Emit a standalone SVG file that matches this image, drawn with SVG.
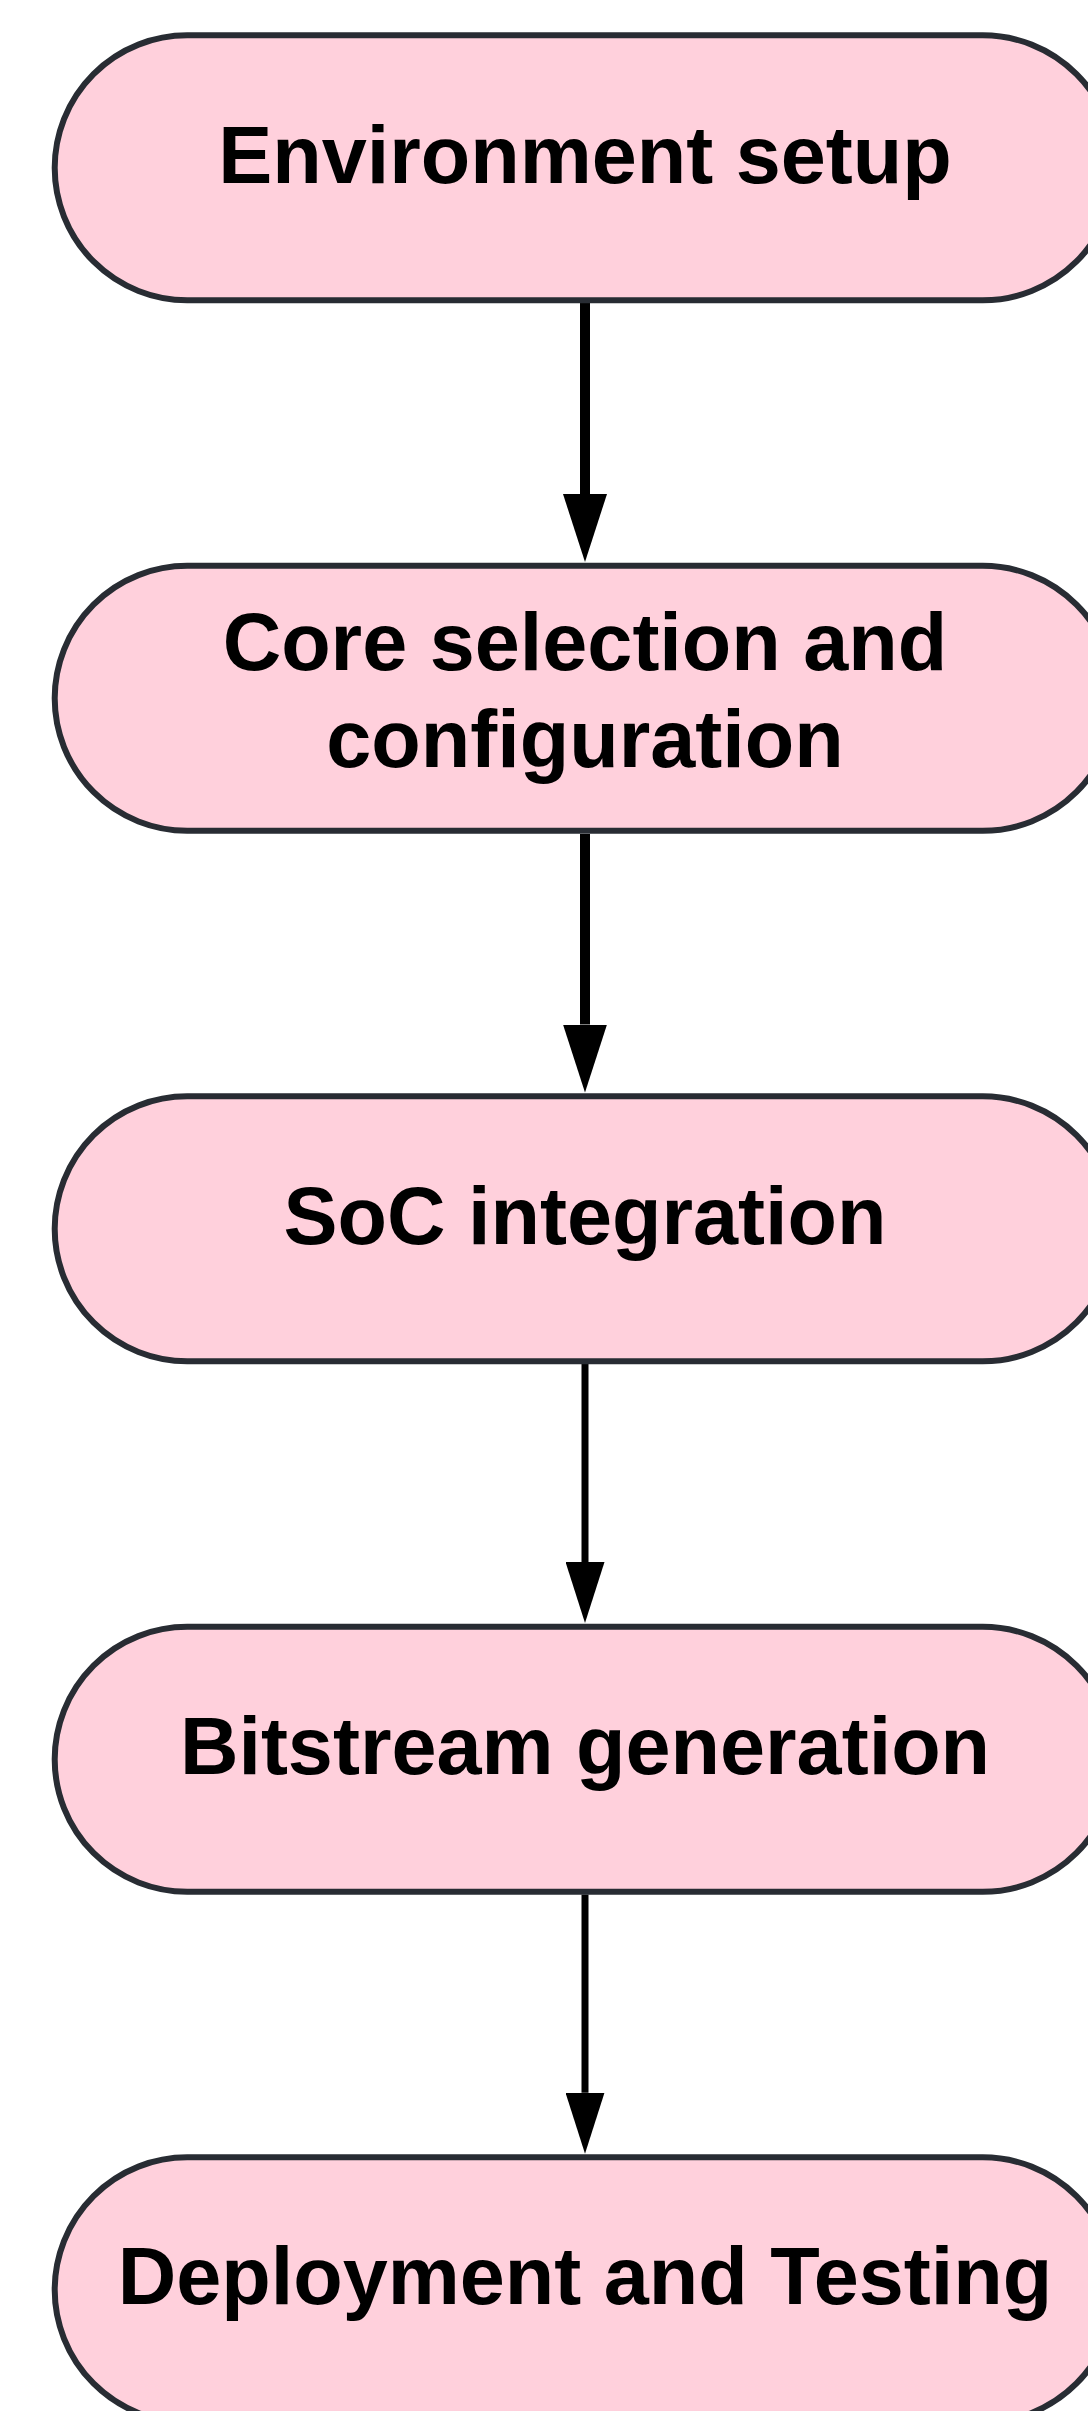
<svg xmlns="http://www.w3.org/2000/svg" width="1088" height="2411" viewBox="0 0 1088 2411">
  <style>
    .node rect { fill: #ffd0dc; stroke: #282c33; stroke-width: 6; }
    .node text { font-family: "Liberation Sans", Arial, sans-serif; font-weight: bold; font-size: 81px; fill: #000000; text-anchor: middle; }
    .edge { stroke: #000000; fill: none; stroke-linecap: butt; }
    .thick { stroke-width: 10; marker-end: url(#headA); }
    .thin { stroke-width: 7; marker-end: url(#headB); }
  </style>
  <defs>
    <marker id="headA" markerUnits="userSpaceOnUse" viewBox="0 -22 68 44" refX="0" refY="0" markerWidth="68" markerHeight="44" orient="auto">
      <path d="M0,-22 L68,0 L0,22 Z" fill="#000000"/>
    </marker>
    <marker id="headB" markerUnits="userSpaceOnUse" viewBox="0 -19.5 61 39" refX="0" refY="0" markerWidth="61" markerHeight="39" orient="auto">
      <path d="M0,-19.5 L61,0 L0,19.5 Z" fill="#000000"/>
    </marker>
  </defs>
  <rect width="1088" height="2411" fill="#ffffff"/>
  <g id="connectors">
    <line class="edge thick" x1="585" y1="303" x2="585" y2="494"/>
    <line class="edge thick" x1="585" y1="834" x2="585" y2="1024.5"/>
    <line class="edge thin" x1="585" y1="1364" x2="585" y2="1562"/>
    <line class="edge thin" x1="585" y1="1894.5" x2="585" y2="2092.7"/>
  </g>
  <g id="node-environment-setup" class="node">
    <rect x="54.7" y="35.3" width="1060.6" height="265" rx="132.5" ry="132.5"/>
    <text x="585" y="183">Environment setup</text>
  </g>
  <g id="node-core-selection" class="node">
    <rect x="54.7" y="565.8" width="1060.6" height="265" rx="132.5" ry="132.5"/>
    <text x="585" y="669.5">Core selection and</text>
    <text x="585" y="766.7">configuration</text>
  </g>
  <g id="node-soc-integration" class="node">
    <rect x="54.7" y="1096.3" width="1060.6" height="265" rx="132.5" ry="132.5"/>
    <text x="585" y="1243.5">SoC integration</text>
  </g>
  <g id="node-bitstream-generation" class="node">
    <rect x="54.7" y="1626.8" width="1060.6" height="265" rx="132.5" ry="132.5"/>
    <text x="585" y="1774">Bitstream generation</text>
  </g>
  <g id="node-deployment-testing" class="node">
    <rect x="54.7" y="2157.3" width="1060.6" height="265" rx="132.5" ry="132.5"/>
    <text x="585" y="2304">Deployment and Testing</text>
  </g>
</svg>
